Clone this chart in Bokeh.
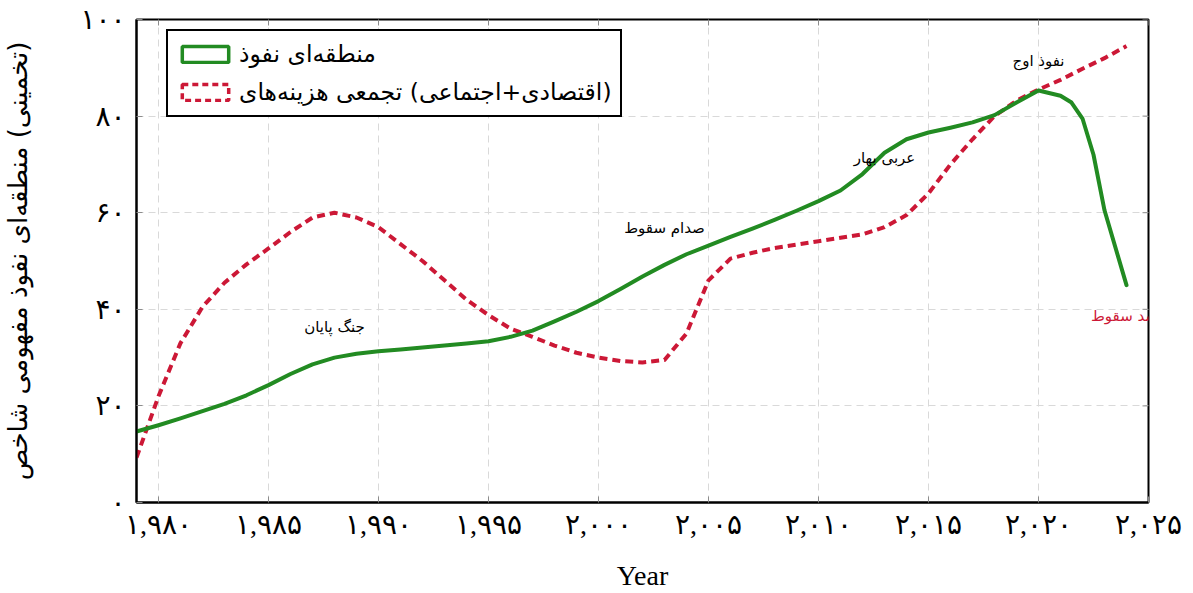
import math
from bokeh.plotting import figure
from bokeh.models import (FixedTicker, Legend, LegendItem, ColumnDataSource, Range1d)
from bokeh.embed import file_html
from bokeh.resources import INLINE
from bokeh.core.properties import value

# ---------------- data ----------------
influence_years = [1979, 1980, 1981, 1982, 1983, 1984, 1985, 1986, 1987, 1988,
                   1989, 1990, 1991, 1992, 1993, 1994, 1995, 1996, 1997, 1998,
                   1999, 2000, 2001, 2002, 2003, 2004, 2005, 2006, 2007, 2008,
                   2009, 2010, 2011, 2012, 2013, 2014, 2015, 2016, 2017, 2018,
                   2019, 2020, 2021, 2021.5, 2022, 2022.5, 2023, 2024]
influence_values = [14.7, 16.0, 17.4, 18.9, 20.4, 22.2, 24.3, 26.6, 28.6, 30.0,
                    30.8, 31.3, 31.7, 32.1, 32.5, 32.9, 33.4, 34.3, 35.6, 37.5,
                    39.5, 41.7, 44.2, 46.8, 49.2, 51.4, 53.2, 55.0, 56.7, 58.5,
                    60.4, 62.4, 64.6, 68.0, 72.4, 75.2, 76.6, 77.6, 78.7, 80.2,
                    82.8, 85.3, 84.2, 82.8, 79.5, 72.0, 60.5, 45.0]

cost_years = [1979, 1980, 1981, 1982, 1983, 1984, 1985, 1986, 1987, 1988,
              1989, 1990, 1991, 1992, 1993, 1994, 1995, 1996, 1997, 1998,
              1999, 2000, 2001, 2002, 2003, 2004, 2005, 2006, 2007, 2008,
              2009, 2010, 2011, 2012, 2013, 2014, 2015, 2016, 2017, 2018,
              2019, 2020, 2021, 2022, 2023, 2024]
cost_values = [9.3, 22.0, 33.0, 40.5, 45.5, 49.3, 52.6, 56.0, 59.0, 60.0,
               59.0, 57.0, 53.5, 50.0, 46.0, 42.0, 38.8, 36.0, 34.3, 32.5,
               31.0, 30.0, 29.3, 29.0, 29.5, 35.0, 46.0, 50.5, 51.7, 52.7,
               53.4, 54.1, 54.8, 55.5, 57.0, 59.5, 64.0, 70.0, 75.2, 80.0,
               83.2, 85.5, 87.5, 89.8, 92.0, 94.5]

event_years = [1988, 2003, 2013, 2020]
event_values = [36.4, 56.8, 71.3, 91.5]
event_labels = ["پایان جنگ", "سقوط صدام", "بهار عربی", "اوج نفوذ"]
fall_years = [2024]
fall_values = [38.6]
fall_labels = ["سقوط اسد"]

series_names = ["نفوذ منطقه‌ای", "هزینه‌های تجمعی (اجتماعی+اقتصادی)"]
y_axis_title = "شاخص مفهومی نفوذ منطقه‌ای (تخمینی)"
x_axis_title = "Year"

x_min, x_max = 1979, 2025
y_min, y_max = 0, 100
x_ticks = [1980, 1985, 1990, 1995, 2000, 2005, 2010, 2015, 2020, 2025]
x_tick_labels = ["۱,۹۸۰", "۱,۹۸۵", "۱,۹۹۰", "۱,۹۹۵", "۲,۰۰۰",
                 "۲,۰۰۵", "۲,۰۱۰", "۲,۰۱۵", "۲,۰۲۰", "۲,۰۲۵"]
y_ticks = [0, 20, 40, 60, 80, 100]
y_tick_labels = ["۰", "۲۰", "۴۰", "۶۰", "۸۰", "۱۰۰"]


def ltr(s):
    # words laid out left-to-right, as in the reference
    LRM = "\u200e"
    return s.replace(" ", LRM + " " + LRM).replace("+", LRM + "+" + LRM)


GREEN = "#228B22"
RED = "#CC1836"
TICK = "#8c8c8c"
PFONT = "DejaVu Sans"
NFONT = "Liberation Serif, DejaVu Sans"

p = figure(width=1193, height=593, output_backend="svg", toolbar_location=None,
           x_range=Range1d(x_min, x_max), y_range=Range1d(y_min, y_max),
           min_border_left=133, min_border_right=45, min_border_top=19,
           min_border_bottom=90)
p.background_fill_color = "white"
p.border_fill_color = "white"
p.outline_line_color = "black"
p.outline_line_width = 2

for ax in (p.xaxis[0], p.yaxis[0]):
    ax.major_tick_in = 6
    ax.major_tick_out = 0
    ax.minor_tick_line_color = None
    ax.major_tick_line_color = TICK
    ax.axis_line_color = "black"
    ax.axis_line_width = 2
    ax.major_label_text_font = NFONT
    ax.major_label_text_color = "black"
    ax.axis_label_text_font_style = "normal"
    ax.axis_label_text_color = "black"

p.xaxis[0].ticker = FixedTicker(ticks=x_ticks)
p.xaxis[0].major_label_overrides = {t: l for t, l in zip(x_ticks, x_tick_labels)}
p.xaxis[0].major_label_text_font_size = "28px"
p.xaxis[0].major_label_standoff = 6
p.xaxis[0].axis_label = x_axis_title
p.xaxis[0].axis_label_text_font = "Liberation Serif"
p.xaxis[0].axis_label_text_font_size = "28px"
p.xaxis[0].axis_label_standoff = 17

p.yaxis[0].ticker = FixedTicker(ticks=y_ticks)
p.yaxis[0].major_label_overrides = {t: l for t, l in zip(y_ticks, y_tick_labels)}
p.yaxis[0].major_label_text_font_size = "28px"
p.yaxis[0].major_label_standoff = 11
p.yaxis[0].axis_label = ltr(y_axis_title)
p.yaxis[0].axis_label_text_font = PFONT
p.yaxis[0].axis_label_text_font_size = "26px"
p.yaxis[0].axis_label_standoff = 44

# inward ticks on the top and right frame edges
p.ray(x=x_ticks, y=[y_max] * len(x_ticks), length=6, length_units="screen",
      angle=-math.pi / 2, line_color=TICK, line_width=1)
p.ray(x=[x_max] * len(y_ticks), y=y_ticks, length=6, length_units="screen",
      angle=math.pi, line_color=TICK, line_width=1)

p.xgrid.ticker = FixedTicker(ticks=x_ticks)
p.ygrid.ticker = FixedTicker(ticks=y_ticks)
for g in (p.xgrid[0], p.ygrid[0]):
    g.grid_line_color = "#d9d9d9"
    g.grid_line_dash = "7 5"
    g.grid_line_width = 1

src_inf = ColumnDataSource(dict(x=influence_years, y=influence_values))
src_cost = ColumnDataSource(dict(x=cost_years, y=cost_values))

p.line("x", "y", source=src_cost, line_color=RED, line_width=4,
       line_dash="8 5", line_join="round")
p.line("x", "y", source=src_inf, line_color=GREEN, line_width=4,
       line_join="round", line_cap="round")

src_ev = ColumnDataSource(dict(x=event_years, y=event_values,
                               t=[ltr(s) for s in event_labels]))
p.text("x", "y", text="t", source=src_ev, text_font=value(PFONT),
       text_font_size="15px", text_color="black", text_align="center",
       text_baseline="middle")
src_fall = ColumnDataSource(dict(x=fall_years, y=fall_values,
                                 t=[ltr(s) for s in fall_labels]))
p.text("x", "y", text="t", source=src_fall, text_font=value(PFONT),
       text_font_size="15px", text_color=RED, text_align="center",
       text_baseline="middle")

# legend swatches (open rectangles); no visible data
nan = float("nan")
sw1 = p.rect(x=[nan], y=[nan], width=1, height=1, fill_alpha=0,
             line_color=GREEN, line_width=3.5)
sw2 = p.rect(x=[nan], y=[nan], width=1, height=1, fill_alpha=0,
             line_color=RED, line_width=3.5, line_dash="6 4")

legend = Legend(items=[LegendItem(label=ltr(series_names[0]), renderers=[sw1]),
                       LegendItem(label=ltr(series_names[1]), renderers=[sw2])],
                location=(30, 385), margin=0, padding=8, spacing=8,
                glyph_width=58, glyph_height=20, label_height=30,
                label_standoff=5,
                label_text_font=PFONT, label_text_font_size="23.5px",
                label_text_color="black",
                border_line_color="black", border_line_width=2,
                border_line_alpha=1,
                background_fill_color="white", background_fill_alpha=1)
p.add_layout(legend, "center")

open("out.html", "w").write(file_html(p, INLINE))
